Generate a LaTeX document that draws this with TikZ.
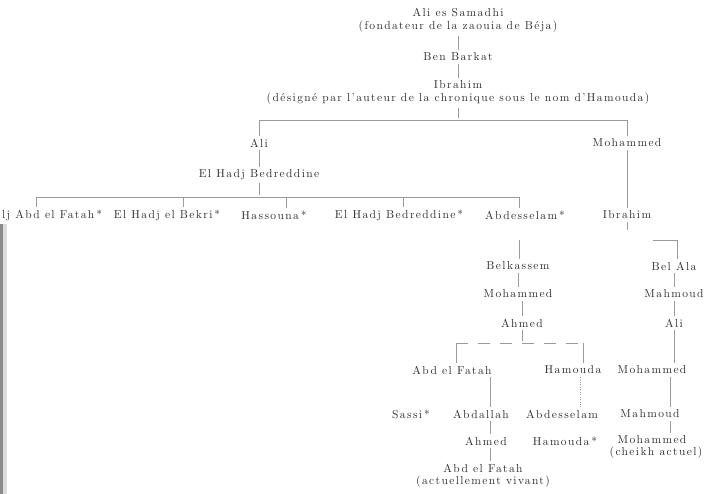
\documentclass[tikz,border=0pt]{standalone}
\usepackage{fontspec}
\setmainfont{lmroman10-regular.otf}[LetterSpace=12]
\usepackage{tikz}
\definecolor{inkdark}{HTML}{2E2E2E}
\definecolor{linegray}{HTML}{9A9A9A}
\definecolor{edgegray}{HTML}{8A8A8A}

\begin{document}
\begin{tikzpicture}[x=1pt, y=-1pt, font=\fontsize{11.5}{13}\selectfont,
  every node/.style={inner sep=0.8pt, text=inkdark},
  link/.style={linegray, line width=0.45pt, shorten <=2pt, shorten >=2pt},
  drop/.style={linegray, line width=0.45pt, shorten >=2pt}]
  \useasboundingbox (0,0) rectangle (727,494);
  \fill[edgegray!30] (3,224) rectangle (7,494);
  \fill[edgegray] (0,224) rectangle (3,494);

  % founder line
  \node (samadhi) at (458,13) {Ali es Samadhi};
  \node (samadhiNote) at (458,27) {(fondateur de la zaouia de Béja)};
  \node (barkat) at (458,57) {Ben Barkat};
  \node (ibrahim) at (458,85) {Ibrahim};
  \node (ibrahimNote) at (458,99) {(désigné par l'auteur de la chronique sous le nom d'Hamouda)};
  \draw[link] (samadhiNote.south) -- (barkat.north);
  \draw[link] (barkat.south) -- (ibrahim.north);
  \draw[link] (ibrahimNote.south) -- (ibrahimNote.south |- 0,120);

  \node (ali) at (259,143) {Ali};
  \node (mohammed) at (627,143) {Mohammed};
  \draw[link] (ali.north) -- (ali.north |- 0,120) -- (mohammed.north |- 0,120) -- (mohammed.north);

  % branche de Ali
  \node (bedreddine) at (259,175) {El Hadj Bedreddine};
  \draw[link] (ali.south) -- (bedreddine.north);
  \draw[link] (bedreddine.south) -- (bedreddine.south |- 0,197);

  \node[anchor=west] (fatah) at (1,215) {lj Abd el Fatah\,*};
  \node (bekri) at (167,215) {El Hadj el Bekri\,*};
  \node (hassouna) at (274,215) {Hassouna\,*};
  \node (bedreddineB) at (399,215) {El Hadj Bedreddine\,*};
  \node (abdesselam) at (525,215) {Abdesselam\,*};
  \draw[link] (fatah.north -| 36,0) -- (36,197) -- (519,197) -- (abdesselam.north -| 519,0);
  \draw[drop] (183,197) -- (bekri.north -| 183,0);
  \draw[drop] (286,197) -- (hassouna.north -| 286,0);
  \draw[drop] (403,197) -- (bedreddineB.north -| 403,0);

  % branche de Mohammed
  \node (ibrahimB) at (627,215) {Ibrahim};
  \draw[link] (mohammed.south) -- (ibrahimB.north);
  \draw[link] (ibrahimB.south) -- ++(0,12);

  \node (belkassem) at (518,266) {Belkassem};
  \node (belala) at (674,266) {Bel Ala};
  \draw[drop] (519,240) -- (belkassem.north -| 519,0);
  \draw[drop] (653,240) -- (677,240) -- (belala.north -| 677,0);

  \node (mohammedB) at (518,294) {Mohammed};
  \node (ahmed) at (522,323) {Ahmed};
  \draw[link] (belkassem.south) -- (mohammedB.north -| belkassem.south);
  \draw[link] (mohammedB.south -| ahmed.north) -- (ahmed.north);

  \node (mahmoud) at (674,294) {Mahmoud};
  \node (aliB) at (674,323) {Ali};
  \node (mohammedC) at (652,370) {Mohammed};
  \node (mahmoudB) at (650,414) {Mahmoud};
  \node (mohammedD) at (652,440) {Mohammed};
  \node (mohammedNote) at (656,453) {(cheikh actuel)};
  \draw[link] (belala.south) -- (mahmoud.north);
  \draw[link] (mahmoud.south) -- (aliB.north);
  \draw[link] (aliB.south) -- (mohammedC.north -| aliB.south);
  \draw[link] (mohammedC.south -| 670,0) -- (mahmoudB.north -| 670,0);
  \draw[link] (mahmoudB.south -| 670,0) -- (mohammedD.north -| 670,0);

  % enfants d'Ahmed
  \node (fatahB) at (452,370) {Abd el Fatah};
  \node (hamouda) at (573,370) {Hamouda};
  \draw[link] (ahmed.south) -- (ahmed.south |- 0,343);
  \draw[linegray, line width=0.45pt, dash pattern=on 12pt off 10pt] (456,343) -- (583,343);
  \draw[drop] (456,343) -- (fatahB.north -| 456,0);
  \draw[drop] (583,343) -- (hamouda.north -| 583,0);

  \node (sassi) at (411,414) {Sassi\,*};
  \node (abdallah) at (481,414) {Abdallah};
  \node (abdesselamB) at (562,414) {Abdesselam};
  \node (ahmedB) at (486,441) {Ahmed};
  \node (hamoudaB) at (565,441) {Hamouda\,*};
  \node (fatahC) at (483,468) {Abd el Fatah};
  \node (fatahNote) at (483,482) {(actuellement vivant)};
  \draw[link] (fatahB.south -| 490,0) -- (abdallah.north -| 490,0);
  \draw[link] (abdallah.south -| 490,0) -- (ahmedB.north -| 490,0);
  \draw[link] (ahmedB.south -| 490,0) -- (fatahC.north -| 490,0);
  \draw[link, dotted] (hamouda.south -| 580,0) -- (abdesselamB.north -| 580,0);
\end{tikzpicture}
\end{document}
